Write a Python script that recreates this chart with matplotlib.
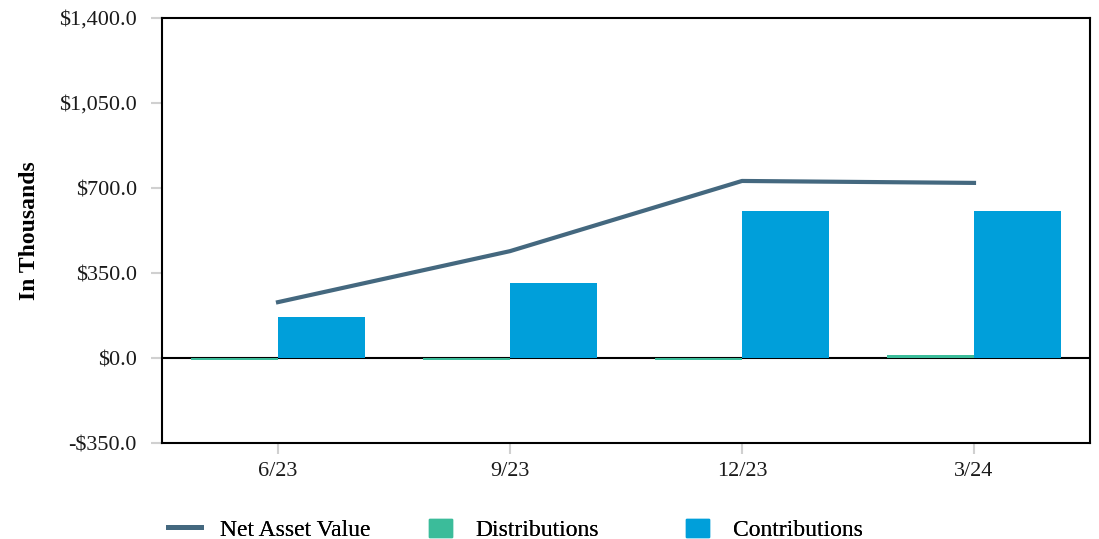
import matplotlib.pyplot as plt
from matplotlib.lines import Line2D
from matplotlib.patches import Patch
import numpy as np

plt.rcParams['font.family'] = ['Liberation Serif', 'DejaVu Serif']

# Quarter-end values, in thousands of dollars
quarters = ["6/23", "9/23", "12/23", "3/24"]
net_asset_value = [230, 440, 729, 721]
distributions = [-7, -7, -7, 14]
contributions = [169, 309, 605, 605]

nav_color = "#44687F"
dist_color = "#3BBC9A"
contrib_color = "#009FDA"

x = np.arange(len(quarters))
width = 0.375

fig = plt.figure(figsize=(10.99, 5.39), dpi=100)
ax = fig.add_axes([0.1474, 0.1781, 0.8444, 0.7885])

ax.axhline(0, color="black", linewidth=1.5, zorder=1.5)
ax.bar(x - width / 2, distributions, width, color=dist_color, zorder=2)
ax.bar(x + width / 2, contributions, width, color=contrib_color, zorder=2)
ax.plot(x, net_asset_value, color=nav_color, linewidth=3, zorder=3)

ax.set_xlim(-0.5, 3.5)
ax.set_ylim(-350, 1400)
ax.set_yticks([-350, 0, 350, 700, 1050, 1400])
ax.set_yticklabels([f"-${abs(v):,.1f}" if v < 0 else f"${v:,.1f}" for v in ax.get_yticks()])
ax.set_xticks(x)
ax.set_xticklabels(quarters)
ax.tick_params(axis="both", labelsize=16, color="#D0D0D0", length=8, width=1.5,
               labelcolor="#1a1a1a")
ax.tick_params(axis="x", pad=6)
ax.tick_params(axis="y", pad=10)
for s in ax.spines.values():
    s.set_linewidth(1.5)
    s.set_color("black")
ax.set_ylabel("In Thousands", fontsize=17, fontweight="bold", labelpad=14)

entries = [
    (Line2D([], [], color=nav_color, linewidth=3.5), "Net Asset Value", 0.153, 1.4, 0.8),
    (Patch(color=dist_color), "Distributions", 0.39, 1.0, 1.0),
    (Patch(color=contrib_color), "Contributions", 0.624, 1.0, 1.0),
]
for handle, label, xpos, hl, tp in entries:
    leg = fig.legend([handle], [label], loc="center left", bbox_to_anchor=(xpos, 0.017),
                     frameon=False, fontsize=17, handlelength=hl, handleheight=0.85,
                     handletextpad=tp, borderaxespad=0, borderpad=0)
    fig.add_artist(leg)

fig.savefig("out.png", dpi=100)
